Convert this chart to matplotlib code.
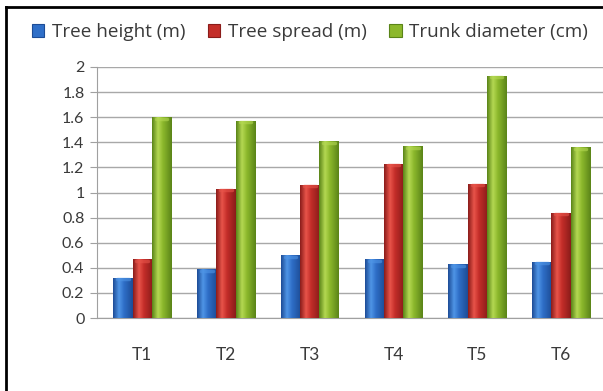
import numpy as np
import matplotlib.pyplot as plt
from matplotlib.colors import LinearSegmentedColormap
from matplotlib.lines import Line2D
from matplotlib.patches import Rectangle

plt.rcParams['font.family'] = ['Lato', 'DejaVu Sans']

trees = ["T1", "T2", "T3", "T4", "T5", "T6"]
tree_height = [0.32, 0.39, 0.50, 0.47, 0.43, 0.45]
tree_spread = [0.47, 1.03, 1.06, 1.23, 1.07, 0.84]
trunk_diameter = [1.60, 1.57, 1.41, 1.37, 1.93, 1.36]

series = [
    ("Tree height (m)", tree_height, ("#1d4c96", "#4f95e6", "#2f6fc8")),
    ("Tree spread (m)", tree_spread, ("#8a1c1a", "#e8544a", "#c42e29")),
    ("Trunk diameter (cm)", trunk_diameter, ("#5a8418", "#b4d852", "#8cb82c")),
]


def shaded_bar(ax, x, w, h, colors):
    dark, light, mid = colors
    cmap = LinearSegmentedColormap.from_list(
        "cyl", [(0, dark), (0.3, light), (0.55, mid), (1, dark)])
    grad = np.linspace(0, 1, 64).reshape(1, -1)
    im = ax.imshow(grad, cmap=cmap, aspect="auto", extent=(x, x + w, 0, h),
                   zorder=3, interpolation="bilinear")
    clip = Rectangle((x, 0), w, h, transform=ax.transData)
    im.set_clip_path(clip)
    # light rim at the top of each cylinder
    ax.plot([x + w * 0.2, x + w * 0.8], [h - 0.012, h - 0.012], color=light,
            lw=2.5, alpha=0.6, zorder=4, solid_capstyle="round")


fig = plt.figure(figsize=(6.03, 3.91), dpi=100)
ax = fig.add_axes([97 / 603, 1 - 318 / 391, 506 / 603, 251 / 391])

x = np.arange(len(trees))
bw = 0.23
for i, (label, vals, cols) in enumerate(series):
    for xi, v in zip(x, vals):
        shaded_bar(ax, xi + (i - 1) * bw - bw / 2, bw, v, cols)

ax.set_xlim(-0.54, 5.5)
ax.set_ylim(0, 2)
ax.set_yticks(np.arange(0, 2.01, 0.2))
ax.set_yticklabels(["0", "0.2", "0.4", "0.6", "0.8", "1", "1.2", "1.4",
                    "1.6", "1.8", "2"])
ax.set_xticks(x)
ax.set_xticklabels(trees)
ax.yaxis.grid(True, color="#a8a8a8", lw=1)
ax.set_axisbelow(True)
for s in ["top", "right"]:
    ax.spines[s].set_visible(False)
for s in ["left", "bottom"]:
    ax.spines[s].set_color("#a0a0a0")
ax.tick_params(axis="y", length=5, color="#a0a0a0", labelsize=11.5,
               labelcolor="#3a3a3a", pad=4)
ax.tick_params(axis="x", length=0, labelsize=12.5, labelcolor="#3a3a3a",
               pad=21)

handles = [Rectangle((0, 0), 1, 1, facecolor=c[2], edgecolor=c[0], lw=0.8)
           for _, _, c in series]
fig.legend(handles, [s[0] for s in series], loc="center left",
           bbox_to_anchor=(15 / 603, 1 - 32 / 391), ncol=3, frameon=False,
           prop={"family": "Open Sans", "size": 13.6},
           handlelength=0.65, handleheight=0.65, handletextpad=0.4,
           columnspacing=1.2, labelcolor="#3a3a3a")

# outer frame of the chart area
fig.add_artist(Line2D([6 / 603, 1], [1 - 7 / 391, 1 - 7 / 391],
                      transform=fig.transFigure, color="black", lw=2))
fig.add_artist(Line2D([6 / 603, 6 / 603], [0, 1 - 7 / 391],
                      transform=fig.transFigure, color="black", lw=2))

fig.savefig("out.png", dpi=100)
